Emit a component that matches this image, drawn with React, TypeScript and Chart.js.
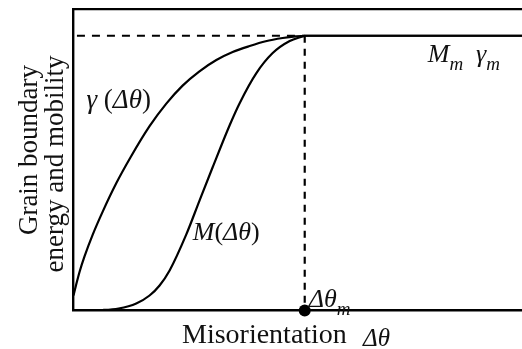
import { useEffect, useRef } from "react";
import { Chart, registerables } from "chart.js";

Chart.register(...registerables);

// Misorientation axis (arbitrary units); theta_m is the critical misorientation
const X_MAX = 104.2;
const THETA_M = 53.72;
const PLATEAU = 91.13;

// Grain boundary energy gamma(dtheta)
const gammaX = [0, 0.63, 1.4, 2.56, 4.49, 6.81, 9.93, 13.26, 17.67, 21.56, 25.35, 29.19, 33.19, 36.98, 40.93, 44.65, 48.6, 51.63, 53.72, 104.2];
const gammaY = [4.98, 8.64, 12.79, 17.94, 25.25, 32.89, 42.19, 50.83, 61.13, 68.6, 74.58, 79.24, 83.06, 85.71, 87.71, 89.3, 90.37, 90.93, 91.13, 91.13];

// Grain boundary mobility M(dtheta)
const mobilityX = [0, 6.74, 10.47, 14.58, 17.67, 20.0, 22.33, 26.21, 29.3, 32.33, 36.28, 38.6, 42.49, 46.28, 50.23, 53.26, 53.72, 104.2];
const mobilityY = [0, 0.17, 0.66, 2.33, 4.98, 8.31, 13.29, 25.25, 36.54, 47.51, 61.46, 68.77, 78.74, 85.38, 89.37, 90.9, 91.13, 91.13];

const pts = (xs: number[], ys: number[]) => xs.map((x, i) => ({ x, y: ys[i] }));

type Seg = { t: string; italic?: boolean; sub?: boolean };

const SERIF = '"Liberation Serif", "Times New Roman", serif';
const INK = "#111";

function drawRich(ctx: CanvasRenderingContext2D, x: number, y: number, size: number, segs: Seg[]) {
  let cx = x;
  for (const s of segs) {
    const fs = s.sub ? Math.round(size * 0.72) : size;
    ctx.font = `${s.italic ? "italic " : ""}${fs}px ${SERIF}`;
    ctx.fillText(s.t, cx, y + (s.sub ? size * 0.3 : 0));
    cx += ctx.measureText(s.t).width;
  }
}

const textPlugin = {
  id: "annotText",
  afterDraw(chart: any) {
    const ctx: CanvasRenderingContext2D = chart.ctx;
    const xs = chart.scales.x;
    const ys = chart.scales.y;
    ctx.save();
    ctx.fillStyle = INK;
    ctx.textAlign = "left";
    ctx.textBaseline = "alphabetic";

    // curve labels
    drawRich(ctx, xs.getPixelForValue(3.0), ys.getPixelForValue(67.1), 27, [
      { t: "γ", italic: true },
      { t: " (" },
      { t: "Δθ", italic: true },
      { t: ")" },
    ]);
    drawRich(ctx, xs.getPixelForValue(27.7), ys.getPixelForValue(23.3), 26, [
      { t: "M", italic: true },
      { t: "(" },
      { t: "Δθ", italic: true },
      { t: ")" },
    ]);
    drawRich(ctx, xs.getPixelForValue(82.3), ys.getPixelForValue(82.4), 26, [
      { t: "M", italic: true },
      { t: "m", italic: true, sub: true },
      { t: "  " },
      { t: "γ", italic: true },
      { t: "m", italic: true, sub: true },
    ]);
    drawRich(ctx, xs.getPixelForValue(THETA_M) + 4, ys.getPixelForValue(1.0), 26, [
      { t: "Δθ", italic: true },
      { t: "m", italic: true, sub: true },
    ]);

    // x axis title
    drawRich(ctx, 182, 343, 28, [{ t: "Misorientation" }]);
    drawRich(ctx, 363, 346, 25, [{ t: "Δθ", italic: true }]);

    // y axis title (two lines, rotated)
    ctx.textAlign = "center";
    ctx.font = `27px ${SERIF}`;
    ctx.save();
    ctx.translate(37, 150);
    ctx.rotate(-Math.PI / 2);
    ctx.fillText("Grain boundary", 0, 0);
    ctx.restore();
    ctx.save();
    ctx.translate(63, 164);
    ctx.rotate(-Math.PI / 2);
    ctx.fillText("energy and mobility", 0, 0);
    ctx.restore();

    ctx.restore();
  },
};

export default function App() {
  const ref = useRef<HTMLCanvasElement | null>(null);

  useEffect(() => {
    if (!ref.current) return;
    const hiddenAxis = (extra: any) => ({
      type: "linear",
      display: true,
      grid: { display: false, drawTicks: false, tickLength: 0 },
      ticks: { display: false },
      border: { display: true, color: "#000", width: 2.4 },
      ...extra,
    });
    const chart = new Chart(ref.current, {
      type: "line",
      data: {
        datasets: [
          {
            label: "gamma",
            data: pts(gammaX, gammaY),
            borderColor: "#000",
            borderWidth: 2.2,
            pointRadius: 0,
            cubicInterpolationMode: "monotone",
            fill: false,
          },
          {
            label: "mobility",
            data: pts(mobilityX, mobilityY),
            borderColor: "#000",
            borderWidth: 2.2,
            pointRadius: 0,
            cubicInterpolationMode: "monotone",
            fill: false,
          },
          {
            label: "plateau guide",
            data: [
              { x: 0.8, y: PLATEAU },
              { x: THETA_M, y: PLATEAU },
            ],
            borderColor: "#000",
            borderWidth: 2.2,
            borderDash: [8, 7],
            pointRadius: 0,
            tension: 0,
          },
          {
            label: "theta_m guide",
            data: [
              { x: THETA_M, y: PLATEAU },
              { x: THETA_M, y: 0 },
            ],
            borderColor: "#000",
            borderWidth: 2.2,
            borderDash: [7, 6],
            pointRadius: 0,
            tension: 0,
          },
          {
            label: "theta_m",
            data: [{ x: THETA_M, y: 0 }],
            showLine: false,
            pointRadius: 6,
            pointBackgroundColor: "#000",
            pointBorderColor: "#000",
            pointBorderWidth: 0,
            clip: false,
          },
        ],
      },
      options: {
        animation: false,
        responsive: false,
        events: [],
        layout: { autoPadding: false, padding: { left: 73.5, top: 9, right: 0, bottom: 38.5 } },
        plugins: { legend: { display: false }, tooltip: { enabled: false }, title: { display: false } },
        scales: {
          x: hiddenAxis({ min: 0, max: X_MAX, position: "bottom" }),
          y: hiddenAxis({ min: 0, max: 100, position: "left" }),
          xTop: hiddenAxis({ axis: "x", min: 0, max: X_MAX, position: "top", border: { display: true, color: "#000", width: 2.2 } }),
        },
      } as any,
      plugins: [textPlugin],
    } as any);
    return () => chart.destroy();
  }, []);

  return (
    <div style={{ position: "absolute", left: 0, top: 0, width: 522, height: 349, background: "#fff" }}>
      <canvas ref={ref} width={522} height={349} style={{ display: "block", width: 522, height: 349 }} />
    </div>
  );
}
